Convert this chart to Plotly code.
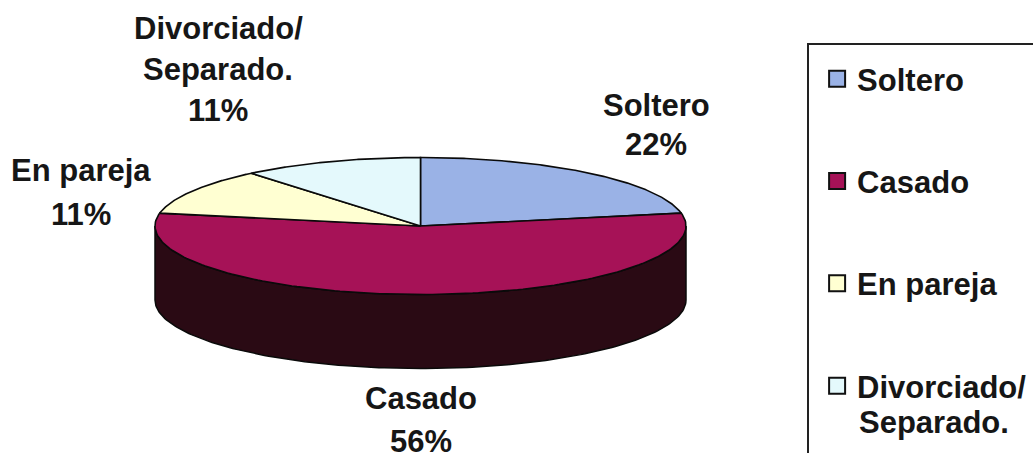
import math
import plotly.graph_objects as go

categories = ["Soltero", "Casado", "En pareja", "Divorciado/ Separado."]
values = [22, 56, 11, 11]
legend_names = ["Soltero", "Casado", "En pareja", "Divorciado/"]
legend_extra = "Separado."
colors = ["#9AB2E6", "#A61257", "#FFFFD2", "#E4F9FC"]
side_color = "#2A0A14"
edge = "#0A0A0A"
label_lines = [["Soltero", "22%"], ["Casado", "56%"], ["En pareja", "11%"], ["Divorciado/", "Separado.", "11%"]]
label_pos = [(656, 105, 39), (421, 398, 43), (81, 170, 44), (218, 28, 41)]

CX, CY, RX, RY, DEPTH = 420.5, 226, 265.5, 68.5, 74
FONT = "Liberation Sans, Arial, sans-serif"
TEXT_SIZE = 31


def rim(a0, a1, dy=0.0, n=160):
    xs, ys = [], []
    for i in range(n + 1):
        a = math.radians(a0 + (a1 - a0) * i / n)
        xs.append(CX + RX * math.sin(a))
        ys.append(CY + dy - RY * math.cos(a))
    return xs, ys


fig = go.Figure()

# side wall of the cylinder
x1, y1 = rim(90, 270)
x2, y2 = rim(270, 90, DEPTH)
fig.add_trace(go.Scatter(x=x1 + x2 + x1[:1], y=y1 + y2 + y1[:1], mode="lines", fill="toself",
                         fillcolor=side_color, line=dict(color=edge, width=1.5),
                         showlegend=False, hoverinfo="skip"))

# top slices, angles derived from values
total = sum(values)
start = 0.0
for name, v, c in zip(categories, values, colors):
    end = start + 360 * v / total
    xr, yr = rim(start, end)
    fig.add_trace(go.Scatter(x=[CX] + xr + [CX], y=[CY] + yr + [CY], mode="lines", fill="toself",
                             fillcolor=c, line=dict(color=edge, width=1.6),
                             showlegend=False, name=name, hoverinfo="name"))
    start = end

# legend entries
for i, (name, c) in enumerate(zip(legend_names, colors)):
    fig.add_trace(go.Scatter(x=[None], y=[None], mode="markers", name=name, legendgroup=str(i),
                             marker=dict(symbol="square", size=20, color=c, line=dict(color="#111111", width=2))))

# data labels
for lines, (lx, ly, step) in zip(label_lines, label_pos):
    for j, t in enumerate(lines):
        fig.add_annotation(x=lx, y=ly + j * step, text=f"<b>{t}</b>", showarrow=False,
                           font=dict(family=FONT, size=TEXT_SIZE, color="#161616"),
                           xanchor="center", yanchor="middle")

# second line of the last legend entry
fig.add_annotation(x=857, y=422, text=f"<b>{legend_extra}</b>", showarrow=False,
                   font=dict(family=FONT, size=TEXT_SIZE, color="#161616"),
                   xanchor="left", yanchor="middle")

# legend frame running off the picture
fig.add_shape(type="rect", x0=808, x1=1060, y0=44, y1=480, line=dict(color="#222222", width=2), fillcolor="rgba(0,0,0,0)")

fig.update_layout(
    width=1033, height=453, autosize=False,
    margin=dict(l=0, r=0, t=0, b=0),
    paper_bgcolor="white", plot_bgcolor="white",
    xaxis=dict(range=[0, 1033], visible=False, fixedrange=True),
    yaxis=dict(range=[453, 0], visible=False, fixedrange=True),
    legend=dict(x=0.791, y=0.885, xanchor="left", yanchor="top", bgcolor="rgba(0,0,0,0)", borderwidth=0,
                tracegroupgap=59, itemwidth=30, font=dict(family=FONT, size=TEXT_SIZE, color="#161616", weight="bold")),
    showlegend=True,
)
fig.write_html("out.html", config={"displayModeBar": False},
               post_script="document.body.style.margin='0';document.body.style.overflow='hidden';")
